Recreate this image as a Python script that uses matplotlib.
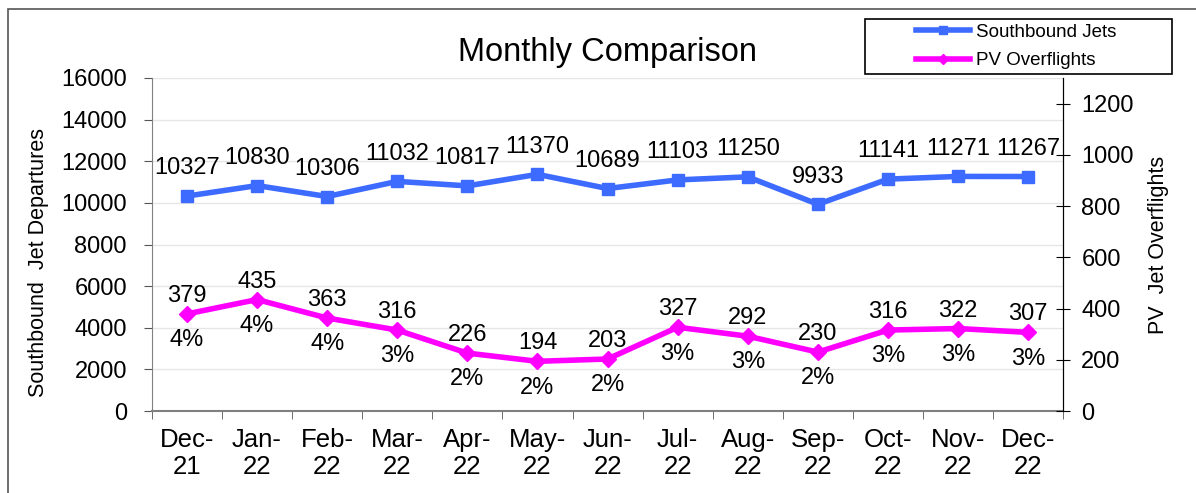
import matplotlib
matplotlib.use("Agg")
import matplotlib.pyplot as plt
from matplotlib.patches import Rectangle
from matplotlib.lines import Line2D

plt.rcParams['font.family'] = ['Liberation Sans', 'DejaVu Sans']

# data
months = ["Dec-\n21", "Jan-\n22", "Feb-\n22", "Mar-\n22", "Apr-\n22", "May-\n22", "Jun-\n22",
          "Jul-\n22", "Aug-\n22", "Sep-\n22", "Oct-\n22", "Nov-\n22", "Dec-\n22"]
southbound = [10327, 10830, 10306, 11032, 10817, 11370, 10689, 11103, 11250, 9933, 11141, 11271, 11267]
pv_overflights = [379, 435, 363, 316, 226, 194, 203, 327, 292, 230, 316, 322, 307]
pv_pct = ["4%", "4%", "4%", "3%", "2%", "2%", "2%", "3%", "3%", "2%", "3%", "3%", "3%"]

blue = "#3d6bff"
magenta = "#ff00ff"

fig = plt.figure(figsize=(11.96, 4.93), dpi=100)
# outer chart frame
fig.patches.append(Rectangle((8 / 1196, -0.1), 1.2, (493 - 9) / 493 + 0.1, transform=fig.transFigure,
                             fill=False, edgecolor="#555555", linewidth=1.2))

ax = fig.add_axes([0.127, 0.1663, 0.762, 0.6755])
ax2 = ax.twinx()

x = list(range(len(months)))
ax.plot(x, southbound, color=blue, lw=4, marker="s", markersize=9, zorder=3)
ax2.plot(x, pv_overflights, color=magenta, lw=4, marker="D", markersize=8, zorder=3)

ax.set_xlim(-0.5, len(months) - 0.5)
ax.set_ylim(0, 16000)
ax2.set_ylim(0, 1300)
ax.set_yticks(range(0, 16001, 2000))
ax2.set_yticks(range(0, 1201, 200))

ax.set_xticks(x)
ax.set_xticklabels(months, fontsize=18.5, linespacing=1.2)
ax.tick_params(axis="x", length=0, pad=12)
ax.set_xticks([i + 0.5 for i in range(-1, len(months))], minor=True)
ax.tick_params(axis="x", which="minor", length=6, direction="out", color="#555555")

ax.tick_params(axis="y", labelsize=17, length=6, direction="out", color="#555555", pad=12)
ax2.tick_params(axis="y", labelsize=17, length=10, direction="inout", color="black", pad=8)

ax.grid(axis="y", color="#e6e6e6", lw=1)
ax.set_axisbelow(True)

for a in (ax, ax2):
    a.spines["top"].set_visible(False)
ax.spines["left"].set_color("#808080")
ax.spines["bottom"].set_color("#808080")
ax.spines["bottom"].set_linewidth(1.5)
ax2.spines["right"].set_color("black")
ax2.spines["left"].set_visible(False)
ax2.spines["bottom"].set_visible(False)

ax.set_ylabel("Southbound  Jet Departures", fontsize=15.5)
ax.yaxis.set_label_coords(-0.113, 0.447)
ax2.set_ylabel("PV  Jet Overflights", fontsize=15.5, labelpad=10)

for i, v in enumerate(southbound):
    ax.annotate(str(v), (i, v), xytext=(0, 12), textcoords="offset points",
                ha="center", va="bottom", fontsize=17)
for i, v in enumerate(pv_overflights):
    ax2.annotate(str(v), (i, v), xytext=(0, 5), textcoords="offset points",
                 ha="center", va="bottom", fontsize=17)
    ax2.annotate(pv_pct[i], (i, v), xytext=(0, -11), textcoords="offset points",
                 ha="center", va="top", fontsize=17)

fig.text(0.508, 0.893, "Monthly Comparison", ha="center", va="center", fontsize=23.5)

# legend box drawn by hand, entries placed inside it
fig.patches.append(Rectangle((865 / 1196, 1 - 74 / 493), (1172 - 865) / 1196, 55 / 493,
                             transform=fig.transFigure, fill=True, facecolor="white",
                             edgecolor="black", linewidth=1.2, zorder=5))
handles = [Line2D([], [], color=blue, lw=4, marker="s", markersize=6),
           Line2D([], [], color=magenta, lw=4, marker="D", markersize=5)]
leg = fig.legend(handles, ["Southbound Jets", "PV Overflights"], loc="center left",
                 bbox_to_anchor=(916 / 1196, 1 - 46.5 / 493), fontsize=13.5, frameon=False,
                 handlelength=2.9, handletextpad=0.3, labelspacing=0.62, borderpad=0, borderaxespad=0)
leg.set_zorder(6)

fig.savefig("out.png", dpi=100)
